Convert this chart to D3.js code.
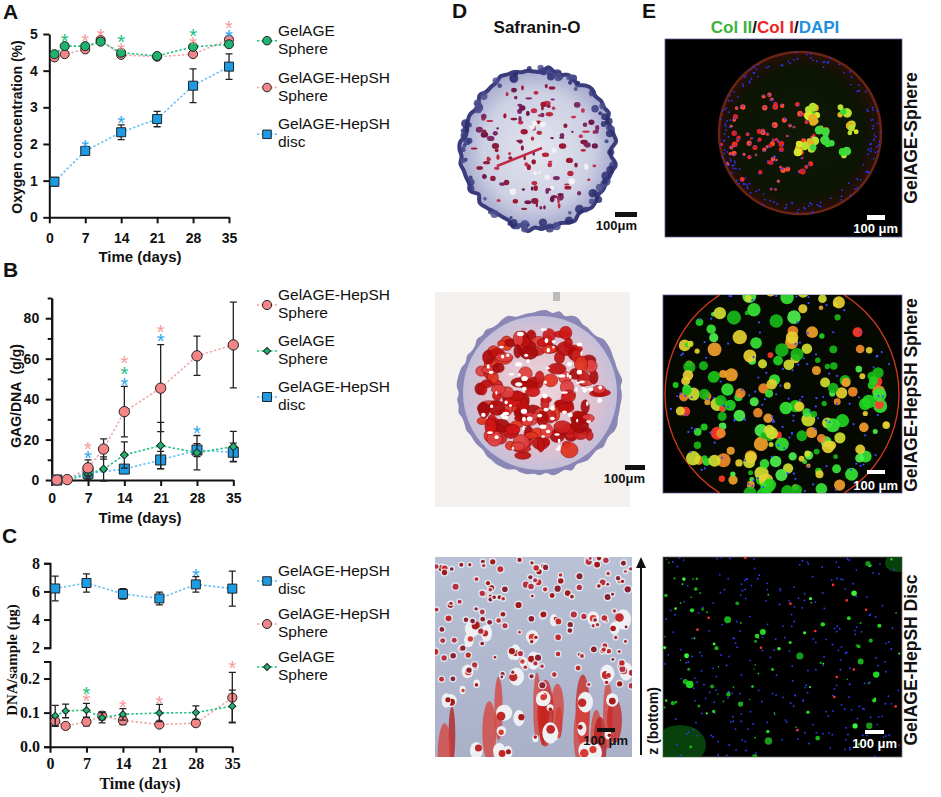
<!DOCTYPE html>
<html>
<head>
<meta charset="utf-8">
<script src="https://cdn.jsdelivr.net/npm/d3@7"></script>
<style>
  body { margin: 0; background: #fff; }
  svg { display: block; }
</style>
</head>
<body>
<div id="fig"></div>
<script>
// ---- data ----
const days = [1, 3, 7, 10, 14, 21, 28, 35];
const discDays = [1, 7, 14, 21, 28, 35];
const dayTicks = [0, 7, 14, 21, 28, 35];

// A: oxygen concentration (%)
const oxyGel = [4.45, 4.67, 4.67, 4.79, 4.49, 4.40, 4.65, 4.72];
const oxyGelSd = [0.05, 0.04, 0.04, 0.04, 0.05, 0.03, 0.04, 0.04];
const oxyHep = [4.36, 4.45, 4.58, 4.84, 4.43, 4.38, 4.45, 4.85];
const oxyHepSd = [0.04, 0.04, 0.04, 0.04, 0.04, 0.03, 0.04, 0.05];
const oxyDisc = [0.97, 1.81, 2.32, 2.68, 3.59, 4.11];
const oxyDiscSd = [0.12, 0.05, 0.2, 0.21, 0.46, 0.35];
const oxyTicks = [0, 1, 2, 3, 4, 5];
const starsA = [["gel", 3, 4.93], ["gel", 14, 4.88], ["gel", 28, 5.06],
  ["hep", 7, 4.91], ["hep", 10, 5.06], ["hep", 14, 4.67], ["hep", 28, 4.84], ["hep", 35, 5.27],
  ["disc", 7, 2.04], ["disc", 14, 2.68], ["disc", 35, 5.04]];

// B: GAG/DNA (g/g)
const gagHep = [0, 0.2, 6.0, 15.3, 33.8, 45.4, 61.4, 66.8];
const gagHepSd = [0.3, 0.3, 4, 5, 12.5, 21.5, 9.7, 21.2];
const gagGel = [0, 0, 2.8, 5.4, 12.4, 17, 13.5, 16.5];
const gagGelSd = [0.2, 0.2, 2.5, 6, 6.5, 11.5, 8.5, 7.5];
const gagDisc = [0, 3.3, 5.4, 9.9, 14.8, 13.7];
const gagDiscSd = [0.3, 1.5, 1, 4.3, 3.2, 4.5];
const gagTicks = [0, 20, 40, 60, 80];
const gagMinor = [10, 30, 50, 70, 90];
const starsB = [["hep", 7, 17.5], ["disc", 7, 13], ["hep", 14, 60], ["gel", 14, 54.5],
  ["disc", 14, 49], ["hep", 21, 75], ["disc", 21, 70.5], ["disc", 28, 25]];

// C: DNA/sample (ug), broken axis
const dnaDisc = [6.21, 6.6, 5.82, 5.5, 6.5, 6.2];
const dnaDiscSd = [0.88, 0.65, 0.37, 0.45, 0.55, 1.25];
const dnaHep = [0.075, 0.061, 0.073, 0.091, 0.077, 0.065, 0.069, 0.144];
const dnaHepSd = [0.015, 0.007, 0.012, 0.012, 0.012, 0.006, 0.006, 0.074];
const dnaGel = [0.091, 0.105, 0.107, 0.085, 0.095, 0.099, 0.1, 0.119];
const dnaGelSd = [0.03, 0.02, 0.02, 0.015, 0.017, 0.025, 0.02, 0.047];
const dnaTicksHigh = [2, 4, 6, 8];
const dnaTicksLow = [0, 0.1, 0.2];
const starsCHigh = [["disc", 28, 7.4]];
const starsCLow = [["gel", 7, 0.166], ["hep", 7, 0.146], ["hep", 14, 0.127], ["hep", 21, 0.141], ["hep", 35, 0.242]];

const fill = { gel: "#1fb370", hep: "#f28585", disc: "#1d9ce6" };
const lineCol = { gel: "#22c485", hep: "#f6a7aa", disc: "#6cc0f0" };
const starCol = { gel: "#17c27b", hep: "#f89b9b", disc: "#2aa5ef" };
const sans = "'Liberation Sans', Arial, sans-serif";
const serif = "'Liberation Serif', 'Times New Roman', serif";

const svg = d3.select("#fig").append("svg").attr("width", 941).attr("height", 797);
const defs = svg.append("defs");

// ---- chart helpers ----
function styleAxis(sel, font, size) {
  sel.select(".domain").attr("stroke", "#111").attr("stroke-width", 2);
  sel.selectAll(".tick line").attr("stroke", "#111").attr("stroke-width", 2);
  sel.selectAll(".tick text").attr("font-family", font).attr("font-size", size)
    .attr("font-weight", "bold").attr("fill", "#111");
}

function marker(sel, shape, size) {
  if (shape === "circle") sel.attr("d", d3.symbol(d3.symbolCircle, Math.PI * size * size));
  else sel.attr("d", d3.symbol(d3.symbolSquare, size * size));
  return sel.attr("stroke", "#222").attr("stroke-width", 1);
}

function series(g, x, y, xs, ys, sd, key, shape, size) {
  const pts = xs.map((d, i) => ({ d, v: ys[i], s: sd[i] }));
  g.append("path").datum(pts)
    .attr("d", d3.line().x(p => x(p.d)).y(p => y(p.v)))
    .attr("fill", "none").attr("stroke", lineCol[key])
    .attr("stroke-width", 1.6).attr("stroke-dasharray", "2.4,2");
  const eb = g.append("g").attr("stroke", "#222").attr("stroke-width", 1.3);
  eb.selectAll(null).data(pts).join("path")
    .attr("d", p => {
      const cx = x(p.d), a = y(p.v + p.s), b = y(p.v - p.s);
      return `M${cx},${a}V${b}M${cx - 3.5},${a}H${cx + 3.5}M${cx - 3.5},${b}H${cx + 3.5}`;
    });
  g.selectAll(null).data(pts).join("path")
    .attr("transform", p => `translate(${x(p.d)},${y(p.v)})` + (shape === "diamond" ? " rotate(45)" : ""))
    .call(marker, shape, size)
    .attr("fill", fill[key]);
}

function stars(g, x, y, list) {
  g.selectAll(null).data(list).join("text")
    .attr("x", s => x(s[1])).attr("y", s => y(s[2]) + 11)
    .attr("text-anchor", "middle").attr("font-family", sans).attr("font-size", 20)
    .attr("fill", s => starCol[s[0]]).text("*");
}

function legend(g, entries, top, gap, sizes) {
  entries.forEach((e, i) => {
    const my = top + i * gap;
    g.append("line").attr("x1", 257).attr("x2", 277).attr("y1", my).attr("y2", my)
      .attr("stroke", lineCol[e.key]).attr("stroke-width", 1.6).attr("stroke-dasharray", "2.4,2");
    g.append("path").attr("transform", `translate(267,${my})` + (e.shape === "diamond" ? " rotate(45)" : ""))
      .call(marker, e.shape, sizes[e.key]).attr("fill", fill[e.key]);
    g.append("text").attr("x", 278).attr("y", my - 5).attr("font-family", sans)
      .attr("font-size", 15.5).attr("fill", "#111").text(e.lines[0]);
    g.append("text").attr("x", 278).attr("y", my + 13).attr("font-family", sans)
      .attr("font-size", 15.5).attr("fill", "#111").text(e.lines[1]);
  });
}

function letter(t, x, y) {
  svg.append("text").attr("x", x).attr("y", y).attr("font-family", sans)
    .attr("font-weight", "bold").attr("font-size", 21).attr("fill", "#111").text(t);
}

function yTitle(t, x, y, font, size) {
  svg.append("text").attr("transform", `translate(${x},${y}) rotate(-90)`)
    .attr("text-anchor", "middle").attr("font-family", font).attr("font-weight", "bold")
    .attr("font-size", size).attr("fill", "#111").attr("xml:space", "preserve").text(t);
}

function xTitle(t, x, y, font, size) {
  svg.append("text").attr("x", x).attr("y", y).attr("text-anchor", "middle")
    .attr("font-family", font).attr("font-weight", "bold").attr("font-size", size)
    .attr("fill", "#111").text(t);
}

const fmtInt = d3.format("d");

// ---- panel A ----
{
  const g = svg.append("g");
  const x = d3.scaleLinear().domain([0, 35]).range([49.3, 229]);
  const y = d3.scaleLinear().domain([0, 5]).range([217.3, 34]);
  g.append("g").attr("transform", "translate(0,217.3)")
    .call(d3.axisBottom(x).tickValues(dayTicks).tickFormat(fmtInt).tickSize(6).tickSizeOuter(0).tickPadding(9.5))
    .call(styleAxis, sans, 14);
  g.append("g").attr("transform", "translate(49.3,0)")
    .call(d3.axisLeft(y).tickValues(oxyTicks).tickFormat(fmtInt).tickSize(6).tickSizeOuter(0).tickPadding(5.5))
    .call(styleAxis, sans, 14);
  series(g, x, y, discDays, oxyDisc, oxyDiscSd, "disc", "square", 9);
  series(g, x, y, days, oxyHep, oxyHepSd, "hep", "circle", 4.5);
  series(g, x, y, days, oxyGel, oxyGelSd, "gel", "circle", 4.5);
  stars(g, x, y, starsA);
  legend(g, [
    { key: "gel", shape: "circle", lines: ["GelAGE", "Sphere"] },
    { key: "hep", shape: "circle", lines: ["GelAGE-HepSH", "Sphere"] },
    { key: "disc", shape: "square", lines: ["GelAGE-HepSH", "disc"] }
  ], 40.7, 46.8, { gel: 4.3, hep: 4.3, disc: 8.5 });
  letter("A", 3, 19);
  yTitle("Oxygen concentration (%)", 22, 127, sans, 14);
  xTitle("Time (days)", 140, 262, sans, 15);
}

// ---- panel B ----
{
  const g = svg.append("g");
  const x = d3.scaleLinear().domain([0, 35]).range([51.7, 233.3]);
  const y = d3.scaleLinear().domain([0, 90]).range([480, 298]);
  g.append("g").attr("transform", "translate(0,480)")
    .call(d3.axisBottom(x).tickValues(dayTicks).tickFormat(fmtInt).tickSize(6).tickSizeOuter(0).tickPadding(7))
    .call(styleAxis, sans, 14);
  g.append("g").attr("transform", "translate(51.7,0)")
    .call(d3.axisLeft(y).tickValues(gagMinor).tickSize(4).tickSizeOuter(0).tickFormat(""))
    .call(styleAxis, sans, 14);
  g.append("g").attr("transform", "translate(51.7,0)")
    .call(d3.axisLeft(y).tickValues(gagTicks).tickFormat(fmtInt).tickSize(6).tickSizeOuter(0).tickPadding(6.5))
    .call(styleAxis, sans, 14);
  series(g, x, y, discDays, gagDisc, gagDiscSd, "disc", "square", 10);
  series(g, x, y, days, gagGel, gagGelSd, "gel", "diamond", 5.6);
  series(g, x, y, days, gagHep, gagHepSd, "hep", "circle", 5.2);
  stars(g, x, y, starsB);
  legend(g, [
    { key: "hep", shape: "circle", lines: ["GelAGE-HepSH", "Sphere"] },
    { key: "gel", shape: "diamond", lines: ["GelAGE", "Sphere"] },
    { key: "disc", shape: "square", lines: ["GelAGE-HepSH", "disc"] }
  ], 305, 46, { gel: 5, hep: 4.6, disc: 9 });
  letter("B", 3, 277);
  yTitle("GAG/DNA  (g/g)", 21, 396, sans, 14);
  xTitle("Time (days)", 140, 523, sans, 15);
}

// ---- panel C ----
{
  const g = svg.append("g");
  const x = d3.scaleLinear().domain([0, 35]).range([50, 232.3]);
  const yHigh = d3.scaleLinear().domain([2, 8]).range([647.7, 563.3]);
  const yLow = d3.scaleLinear().domain([0, 0.25]).range([746.7, 661.5]);
  g.append("g").attr("transform", "translate(0,746.7)")
    .call(d3.axisBottom(x).tickValues(dayTicks).tickFormat(fmtInt).tickSize(6).tickSizeOuter(0).tickPadding(5))
    .call(styleAxis, serif, 16);
  g.append("g").attr("transform", "translate(50,0)")
    .call(d3.axisLeft(yHigh).tickValues(dnaTicksHigh).tickFormat(fmtInt).tickSize(6).tickSizeOuter(6).tickPadding(4))
    .call(styleAxis, serif, 16);
  g.append("g").attr("transform", "translate(50,0)")
    .call(d3.axisLeft(yLow).tickValues(dnaTicksLow).tickSize(6).tickSizeOuter(6).tickPadding(4)
      .tickFormat(d3.format(".1f")))
    .call(styleAxis, serif, 16);
  series(g, x, yHigh, discDays, dnaDisc, dnaDiscSd, "disc", "square", 9);
  series(g, x, yLow, days, dnaHep, dnaHepSd, "hep", "circle", 4.6);
  series(g, x, yLow, days, dnaGel, dnaGelSd, "gel", "diamond", 5);
  stars(g, x, yHigh, starsCHigh);
  stars(g, x, yLow, starsCLow);
  legend(g, [
    { key: "disc", shape: "square", lines: ["GelAGE-HepSH", "disc"] },
    { key: "hep", shape: "circle", lines: ["GelAGE-HepSH", "Sphere"] },
    { key: "gel", shape: "diamond", lines: ["GelAGE", "Sphere"] }
  ], 581, 43, { gel: 5, hep: 4.5, disc: 8.5 });
  letter("C", 2, 543);
  yTitle("DNA/sample (\u00b5g)", 17, 660, serif, 15);
  xTitle("Time (days)", 140, 789, serif, 16);
}

// ---- micrograph panels (procedural texture, not data) ----
function mulberry32(a) {
  return function () {
    a |= 0; a = a + 0x6D2B79F5 | 0;
    let t = Math.imul(a ^ a >>> 15, 1 | a);
    t = t + Math.imul(t ^ t >>> 7, 61 | t) ^ t;
    return ((t ^ t >>> 14) >>> 0) / 4294967296;
  };
}
function inDisc(rnd, cx, cy, r) {
  const a = rnd() * Math.PI * 2, rr = r * Math.sqrt(rnd());
  return [cx + rr * Math.cos(a), cy + rr * Math.sin(a)];
}
function pick(rnd, arr) { return arr[Math.floor(rnd() * arr.length)]; }
function bumpy(rnd, cx, cy, r, n, amp, sy = 1) {
  const pts = d3.range(n).map(i => {
    const a = i / n * Math.PI * 2, rr = r * (1 - amp / 2 + amp * rnd());
    return [cx + rr * Math.cos(a), cy + rr * Math.sin(a) * sy];
  });
  return d3.line().curve(d3.curveCardinalClosed)(pts);
}
function radial(id, stops) {
  const gr = defs.append("radialGradient").attr("id", id);
  stops.forEach(s => gr.append("stop").attr("offset", s[0]).attr("stop-color", s[1]).attr("stop-opacity", s[2] ?? 1));
}
radial("d1g", [[0, "#e3e5ee"], [0.7, "#cdd0e3"], [1, "#a3a5cb"]]);
radial("d2g", [[0, "#f0d6dc"], [0.75, "#dcc0d0"], [1, "#c4c0da"]]);
radial("e1g", [[0, "#0f1a06"], [0.8, "#0c1404"], [1, "#2a0e06"]]);
const lg = defs.append("linearGradient").attr("id", "d3g").attr("x1", 0).attr("x2", 0).attr("y1", 0).attr("y2", 1);
lg.append("stop").attr("offset", 0).attr("stop-color", "#b8c1d6");
lg.append("stop").attr("offset", 1).attr("stop-color", "#aab0c8");

// D1: Safranin-O, GelAGE sphere
{
  const g = svg.append("g"), rnd = mulberry32(7), cx = 538, cy = 149, R = 76;
  g.append("path").attr("d", bumpy(rnd, cx, cy, R, 70, 0.08, 1.05))
    .attr("fill", "url(#d1g)").attr("stroke", "#3b3c7c").attr("stroke-width", 4);
  for (let i = 0; i < 90; i++) {
    const a = rnd() * Math.PI * 2, rr = R * (0.9 + 0.12 * rnd());
    g.append("circle").attr("cx", cx + rr * Math.cos(a)).attr("cy", cy + rr * Math.sin(a) * 1.05)
      .attr("r", 1.5 + rnd() * 3).attr("fill", pick(rnd, ["#2c2e6e", "#3a3c80", "#4b4d8e"])).attr("opacity", 0.85);
  }
  for (let i = 0; i < 120; i++) {
    const [px, py] = inDisc(rnd, cx, cy, R * 0.86);
    g.append("ellipse").attr("cx", px).attr("cy", py).attr("rx", 1.2 + rnd() * 2.6).attr("ry", 1 + rnd() * 2)
      .attr("fill", pick(rnd, ["#8a1c3c", "#b8283f", "#6d1a4a", "#c23050", "#7a2a66", "#9d1830"]));
  }
  for (let i = 0; i < 12; i++) {
    const [px, py] = inDisc(rnd, cx, cy, R * 0.7);
    g.append("circle").attr("cx", px).attr("cy", py).attr("r", 1.5 + rnd() * 2).attr("fill", "#f4f0f4");
  }
  g.append("line").attr("x1", 497).attr("y1", 166).attr("x2", 542).attr("y2", 148)
    .attr("stroke", "#c02a4a").attr("stroke-width", 2.5);
  g.append("rect").attr("x", 615).attr("y", 212).attr("width", 22).attr("height", 5).attr("fill", "#111");
  g.append("text").attr("x", 637).attr("y", 230).attr("text-anchor", "end").attr("font-family", sans)
    .attr("font-weight", "bold").attr("font-size", 13).attr("fill", "#111").text("100\u03bcm");
}

// D2: Safranin-O, GelAGE-HepSH sphere
{
  const g = svg.append("g"), rnd = mulberry32(21), cx = 540, cy = 393, R = 82;
  g.append("rect").attr("x", 435).attr("y", 292).attr("width", 195).attr("height", 215).attr("fill", "#f3f0ee");
  g.append("rect").attr("x", 553).attr("y", 292).attr("width", 7).attr("height", 9).attr("fill", "#9a9898").attr("opacity", 0.6);
  g.append("path").attr("d", bumpy(rnd, cx, cy, R, 80, 0.05)).attr("fill", "#8a86b6");
  g.append("circle").attr("cx", cx).attr("cy", cy).attr("r", R - 5).attr("fill", "url(#d2g)");
  for (let i = 0; i < 150; i++) {
    const [px, py] = inDisc(rnd, cx, cy, R * 0.8);
    g.append("ellipse").attr("cx", px).attr("cy", py).attr("rx", 3.5 + rnd() * 6).attr("ry", 3 + rnd() * 5)
      .attr("fill", pick(rnd, ["#d11616", "#bf1010", "#e2341f", "#a70c0e", "#cc2020", "#e04040", "#b00a0a"]))
      .attr("stroke", "#8c0a0a").attr("stroke-width", 0.6).attr("opacity", 0.92);
  }
  for (let i = 0; i < 70; i++) {
    const [px, py] = inDisc(rnd, cx, cy, R * 0.78);
    g.append("ellipse").attr("cx", px).attr("cy", py).attr("rx", 1 + rnd() * 2.5).attr("ry", 1 + rnd() * 1.6)
      .attr("fill", "#fff");
  }
  g.append("rect").attr("x", 625).attr("y", 465).attr("width", 20).attr("height", 5).attr("fill", "#111");
  g.append("text").attr("x", 645).attr("y", 483).attr("text-anchor", "end").attr("font-family", sans)
    .attr("font-weight", "bold").attr("font-size", 13).attr("fill", "#111").text("100\u03bcm");
}

// D3: Safranin-O, GelAGE-HepSH disc
{
  const g = svg.append("g"), rnd = mulberry32(33);
  const x0 = 435, y0 = 557, w = 197, h = 200;
  defs.append("clipPath").attr("id", "cD3").append("rect").attr("x", x0).attr("y", y0).attr("width", w).attr("height", h);
  g.attr("clip-path", "url(#cD3)");
  g.append("rect").attr("x", x0).attr("y", y0).attr("width", w).attr("height", h).attr("fill", "url(#d3g)");
  for (let i = 0; i < 16; i++) {
    g.append("ellipse").attr("cx", x0 + rnd() * w).attr("cy", y0 + h - rnd() * 60)
      .attr("rx", 3 + rnd() * 5).attr("ry", 14 + rnd() * 22)
      .attr("fill", pick(rnd, ["#c8231e", "#b51a18", "#d84038"])).attr("opacity", 0.75);
  }
  for (let i = 0; i < 40; i++) {
    const cx = x0 + rnd() * w, cy = y0 + 60 + rnd() * (h - 60), r = 3 + rnd() * 5;
    g.append("ellipse").attr("cx", cx).attr("cy", cy).attr("rx", r).attr("ry", r * (1 + rnd() * 0.6)).attr("fill", "#eef0f3");
    g.append("circle").attr("cx", cx + (rnd() - 0.5) * r).attr("cy", cy + (rnd() - 0.5) * r)
      .attr("r", r * 0.55).attr("fill", pick(rnd, ["#c0282a", "#a81818", "#d63a30"]));
  }
  for (let i = 0; i < 150; i++) {
    const cx = x0 + rnd() * w, cy = y0 + rnd() * (h * 0.65), r = 1.3 + rnd() * 1.8;
    g.append("circle").attr("cx", cx).attr("cy", cy).attr("r", r + 1.4).attr("fill", "#eef0f5").attr("opacity", 0.8);
    g.append("circle").attr("cx", cx).attr("cy", cy).attr("r", r)
      .attr("fill", pick(rnd, ["#c0282a", "#a01818", "#b43040", "#8a2030"]));
  }
  g.append("rect").attr("x", 597).attr("y", 728).attr("width", 18).attr("height", 4).attr("fill", "#111");
  g.append("text").attr("x", 628).attr("y", 745).attr("text-anchor", "end").attr("font-family", sans)
    .attr("font-weight", "bold").attr("font-size", 13).attr("fill", "#111").text("100 \u03bcm");
  // z arrow
  svg.append("line").attr("x1", 641).attr("x2", 641).attr("y1", 755).attr("y2", 566)
    .attr("stroke", "#111").attr("stroke-width", 2);
  svg.append("path").attr("d", "M641,557L646,568L636,568Z").attr("fill", "#111");
  svg.append("text").attr("transform", "translate(658,721) rotate(-90)").attr("text-anchor", "middle")
    .attr("font-family", sans).attr("font-weight", "bold").attr("font-size", 14).attr("fill", "#111").text("z (bottom)");
}

// E1: GelAGE sphere immunofluorescence
{
  const g = svg.append("g"), rnd = mulberry32(45), cx = 800, cy = 133, R = 81;
  g.append("rect").attr("x", 665).attr("y", 39).attr("width", 237).attr("height", 198)
    .attr("fill", "#000").attr("stroke", "#5c6090").attr("stroke-width", 0.8);
  g.append("circle").attr("cx", cx).attr("cy", cy).attr("r", R).attr("fill", "url(#e1g)")
    .attr("stroke", "#6a2414").attr("stroke-width", 2.5);
  for (let i = 0; i < 160; i++) {
    const a = rnd() * Math.PI * 2, rr = R * (0.86 + 0.14 * rnd());
    g.append("circle").attr("cx", cx + rr * Math.cos(a)).attr("cy", cy + rr * Math.sin(a))
      .attr("r", 0.9).attr("fill", "#2636ff");
  }
  for (let i = 0; i < 80; i++) {
    const [px, py] = inDisc(rnd, cx - 30, cy + 10, R * 0.6);
    g.append("circle").attr("cx", px).attr("cy", py).attr("r", 1.2 + rnd() * 1.8)
      .attr("fill", pick(rnd, ["#ff2a1a", "#e8201a", "#ff4a30"]));
    g.append("circle").attr("cx", px + 3 * (rnd() - 0.5)).attr("cy", py + 3 * (rnd() - 0.5)).attr("r", 0.9).attr("fill", "#2a3cff");
  }
  for (let k = 0; k < 9; k++) {
    const [qx, qy] = inDisc(rnd, cx + 25, cy - 5, R * 0.5);
    const n = 3 + Math.floor(rnd() * 5);
    for (let i = 0; i < n; i++) {
      g.append("circle").attr("cx", qx + (rnd() - 0.5) * 10).attr("cy", qy + (rnd() - 0.5) * 10)
        .attr("r", 2.2 + rnd() * 2.5).attr("fill", pick(rnd, ["#2fe02f", "#d8e82a", "#e8b020", "#b8e030", "#40d840"]));
    }
  }
  g.append("rect").attr("x", 867).attr("y", 215).attr("width", 18).attr("height", 5).attr("fill", "#fff");
  g.append("text").attr("x", 898).attr("y", 233).attr("text-anchor", "end").attr("font-family", sans)
    .attr("font-weight", "bold").attr("font-size", 13).attr("fill", "#fff").text("100 \u03bcm");
}

// E2: GelAGE-HepSH sphere immunofluorescence
{
  const g = svg.append("g"), rnd = mulberry32(58), cx = 782, cy = 394, R = 117;
  defs.append("clipPath").attr("id", "cE2").append("rect").attr("x", 663).attr("y", 295).attr("width", 239).attr("height", 198);
  g.append("rect").attr("x", 663).attr("y", 295).attr("width", 239).attr("height", 198).attr("fill", "#000")
    .attr("stroke", "#5c6090").attr("stroke-width", 0.8);
  const c = g.append("g").attr("clip-path", "url(#cE2)");
  c.append("circle").attr("cx", cx).attr("cy", cy).attr("r", R).attr("fill", "#050902")
    .attr("stroke", "#d03a20").attr("stroke-width", 1.3);
  for (let i = 0; i < 200; i++) {
    const [px, py] = inDisc(rnd, cx, cy, R * 0.94);
    const u = rnd();
    const col = u < 0.6 ? pick(rnd, ["#1fd41f", "#36e336", "#19b819", "#4cf04c"])
      : u < 0.8 ? pick(rnd, ["#cfe030", "#e6d030"])
      : u < 0.92 ? pick(rnd, ["#f0a02a", "#f08a2a"]) : "#ff3a2a";
    c.append("circle").attr("cx", px).attr("cy", py).attr("r", 2.2 + rnd() * 5).attr("fill", col).attr("opacity", 0.92);
  }
  for (let i = 0; i < 130; i++) {
    const [px, py] = inDisc(rnd, cx, cy, R * 0.96);
    c.append("circle").attr("cx", px).attr("cy", py).attr("r", 1.1).attr("fill", "#3a4cff");
  }
  g.append("rect").attr("x", 867).attr("y", 470).attr("width", 18).attr("height", 4).attr("fill", "#fff");
  g.append("text").attr("x", 898).attr("y", 490).attr("text-anchor", "end").attr("font-family", sans)
    .attr("font-weight", "bold").attr("font-size", 13).attr("fill", "#fff").text("100 \u03bcm");
}

// E3: GelAGE-HepSH disc immunofluorescence
{
  const g = svg.append("g"), rnd = mulberry32(71), x0 = 663, y0 = 557, w = 239, h = 200;
  defs.append("clipPath").attr("id", "cE3").append("rect").attr("x", x0).attr("y", y0).attr("width", w).attr("height", h);
  g.append("rect").attr("x", x0).attr("y", y0).attr("width", w).attr("height", h).attr("fill", "#000")
    .attr("stroke", "#777").attr("stroke-width", 0.8);
  const c = g.append("g").attr("clip-path", "url(#cE3)");
  c.append("ellipse").attr("cx", 680).attr("cy", 745).attr("rx", 26).attr("ry", 20).attr("fill", "#0c5c10").attr("opacity", 0.7);
  c.append("ellipse").attr("cx", 897).attr("cy", 563).attr("rx", 12).attr("ry", 9).attr("fill", "#0c5c10").attr("opacity", 0.7);
  for (let i = 0; i < 270; i++) {
    c.append("circle").attr("cx", x0 + rnd() * w).attr("cy", y0 + rnd() * h).attr("r", 0.9).attr("fill", "#2b3dff");
  }
  for (let i = 0; i < 95; i++) {
    c.append("circle").attr("cx", x0 + rnd() * w).attr("cy", y0 + rnd() * h).attr("r", 0.7 + rnd() * rnd() * 3.5)
      .attr("fill", pick(rnd, ["#22d822", "#18b018", "#3cf03c", "#1a9a1a"]));
  }
  for (let i = 0; i < 14; i++) {
    c.append("circle").attr("cx", x0 + rnd() * w).attr("cy", y0 + rnd() * h).attr("r", 1.3).attr("fill", "#ff3030");
  }
  g.append("rect").attr("x", 865).attr("y", 730).attr("width", 19).attr("height", 4).attr("fill", "#fff");
  g.append("text").attr("x", 897).attr("y", 748).attr("text-anchor", "end").attr("font-family", sans)
    .attr("font-weight", "bold").attr("font-size", 13).attr("fill", "#fff").text("100 \u03bcm");
}

// titles for D / E
letter("D", 452, 18);
letter("E", 642, 18);
svg.append("text").attr("x", 537).attr("y", 33).attr("text-anchor", "middle").attr("font-family", sans)
  .attr("font-weight", "bold").attr("font-size", 17).attr("fill", "#111").text("Safranin-O");
{
  const t = svg.append("text").attr("x", 775).attr("y", 33).attr("text-anchor", "middle")
    .attr("font-family", sans).attr("font-weight", "bold").attr("font-size", 17);
  [["Col II", "#3bb33b"], ["/", "#111"], ["Col I", "#ee2222"], ["/", "#111"], ["DAPI", "#1e8fe0"]]
    .forEach(([s, c]) => t.append("tspan").attr("fill", c).text(s));
}
[["GelAGE-Sphere", 138], ["GelAGE-HepSH Sphere", 395], ["GelAGE-HepSH Disc", 660]].forEach(([s, cy]) => {
  svg.append("text").attr("transform", `translate(917,${cy}) rotate(-90)`).attr("text-anchor", "middle")
    .attr("font-family", sans).attr("font-weight", "bold").attr("font-size", 17.5).attr("fill", "#111").text(s);
});
</script>
</body>
</html>
